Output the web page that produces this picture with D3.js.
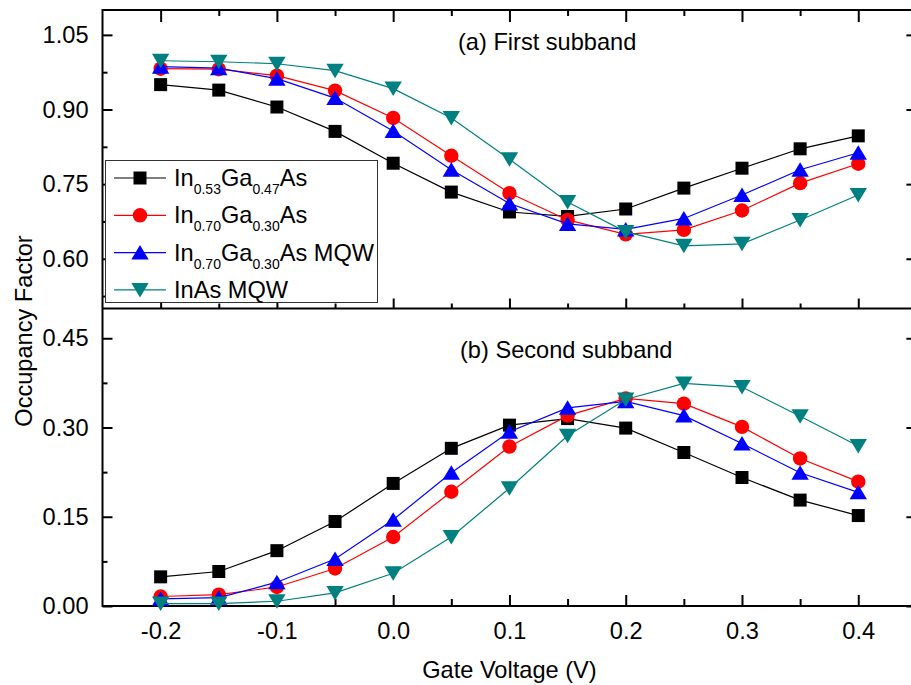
<!DOCTYPE html>
<html>
<head>
<meta charset="utf-8">
<script src="https://cdn.jsdelivr.net/npm/d3@7"></script>
<style>
  html, body { margin: 0; padding: 0; background: #fff; }
  svg { display: block; }
  text { font-family: "Liberation Sans", Arial, sans-serif; fill: #000; }
</style>
</head>
<body>
<svg id="chart" width="911" height="685"></svg>
<script>
// Gate voltage sweep (V)
const gateVoltage = [-0.2, -0.15, -0.1, -0.05, 0.0, 0.05, 0.1, 0.15, 0.2, 0.25, 0.3, 0.35, 0.4];

// (a) first subband occupancy
const first_InGaAs53   = [0.950, 0.939, 0.905, 0.856, 0.792, 0.734, 0.694, 0.685, 0.700, 0.742, 0.782, 0.821, 0.847];
const first_InGaAs70   = [0.982, 0.981, 0.968, 0.938, 0.883, 0.807, 0.732, 0.678, 0.649, 0.658, 0.697, 0.752, 0.791];
const first_InGaAs70MQW= [0.986, 0.983, 0.962, 0.923, 0.857, 0.779, 0.711, 0.670, 0.659, 0.681, 0.728, 0.779, 0.813];
const first_InAsMQW    = [0.998, 0.996, 0.992, 0.978, 0.942, 0.883, 0.800, 0.714, 0.654, 0.626, 0.630, 0.678, 0.728];

// (b) second subband occupancy
const second_InGaAs53   = [0.049, 0.058, 0.093, 0.142, 0.206, 0.265, 0.304, 0.315, 0.299, 0.258, 0.216, 0.178, 0.152];
const second_InGaAs70   = [0.016, 0.019, 0.032, 0.063, 0.116, 0.192, 0.268, 0.320, 0.349, 0.340, 0.301, 0.248, 0.209];
const second_InGaAs70MQW= [0.012, 0.014, 0.040, 0.079, 0.145, 0.224, 0.293, 0.333, 0.344, 0.320, 0.273, 0.224, 0.191];
const second_InAsMQW    = [0.004, 0.004, 0.008, 0.022, 0.055, 0.116, 0.198, 0.286, 0.347, 0.374, 0.368, 0.319, 0.269];

// Axis ticks
const xTicks = [-0.2, -0.1, 0.0, 0.1, 0.2, 0.3, 0.4];
const xMinorTicks = [-0.15, -0.05, 0.05, 0.15, 0.25, 0.35];
const yTopTicks = [0.60, 0.75, 0.90, 1.05];
const yTopMinor = [0.525, 0.675, 0.825, 0.975];
const yBotTicks = [0.00, 0.15, 0.30, 0.45];
const yBotMinor = [0.075, 0.225, 0.375];

// Legend entries: [main, sub, main, sub, main] pieces
const seriesNames = [
  ["In", "0.53", "Ga", "0.47", "As"],
  ["In", "0.70", "Ga", "0.30", "As"],
  ["In", "0.70", "Ga", "0.30", "As MQW"],
  ["InAs MQW"]
];
const seriesColors = ["#000000", "#ff0000", "#0000ff", "#008080"];
const seriesShapes = ["square", "circle", "triUp", "triDown"];
const firstSeries = [first_InGaAs53, first_InGaAs70, first_InGaAs70MQW, first_InAsMQW];
const secondSeries = [second_InGaAs53, second_InGaAs70, second_InGaAs70MQW, second_InAsMQW];

const svg = d3.select("#chart");

const L = 102.5, R = 916.4, T = 10, M = 308.5, B = 606;
const FS = 23.6;

const x = d3.scaleLinear().domain([-0.25, 0.45]).range([L, R]);
const yTop = d3.scaleLinear().domain([0.5, 1.1]).range([M, T]);
const yBot = d3.scaleLinear().domain([0, 0.5]).range([B, M]);

function markerPath(shape) {
  if (shape === "square") return "M-6.5,-6.5H6.5V6.5H-6.5Z";
  if (shape === "circle") return d3.symbol(d3.symbolCircle, Math.PI * 7.2 * 7.2)();
  if (shape === "triUp") return "M0,-7.5L8.7,7L-8.7,7Z";
  return "M0,7.5L8.7,-7L-8.7,-7Z";
}

function styleAxis(g) {
  g.select(".domain").remove();
  g.selectAll(".tick line").attr("stroke", "#000").attr("stroke-width", 2);
  g.selectAll(".tick text").attr("font-size", FS).attr("fill", "#000")
    .attr("font-family", "Liberation Sans, Arial, sans-serif");
}

// Left axes with labels
svg.append("g").attr("transform", `translate(${L},0)`)
  .call(d3.axisLeft(yTop).tickValues(yTopTicks).tickSize(-10).tickPadding(14).tickFormat(d => d.toFixed(2)))
  .call(styleAxis);
svg.append("g").attr("transform", `translate(${L},0)`)
  .call(d3.axisLeft(yTop).tickValues(yTopMinor).tickSize(-5).tickFormat(""))
  .call(styleAxis);
svg.append("g").attr("transform", `translate(${L},0)`)
  .call(d3.axisLeft(yBot).tickValues(yBotTicks).tickSize(-10).tickPadding(14).tickFormat(d => d.toFixed(2)))
  .call(styleAxis);
svg.append("g").attr("transform", `translate(${L},0)`)
  .call(d3.axisLeft(yBot).tickValues(yBotMinor).tickSize(-5).tickFormat(""))
  .call(styleAxis);

// Right axes (major ticks only)
svg.append("g").attr("transform", `translate(${R},0)`)
  .call(d3.axisRight(yTop).tickValues(yTopTicks).tickSize(-10).tickFormat(""))
  .call(styleAxis);
svg.append("g").attr("transform", `translate(${R},0)`)
  .call(d3.axisRight(yBot).tickValues(yBotTicks).tickSize(-10).tickFormat(""))
  .call(styleAxis);

// Top edge of panel (a)
svg.append("g").attr("transform", `translate(0,${T})`)
  .call(d3.axisTop(x).tickValues(xTicks).tickSize(-12).tickFormat(""))
  .call(styleAxis);
svg.append("g").attr("transform", `translate(0,${T})`)
  .call(d3.axisTop(x).tickValues(xMinorTicks).tickSize(-6).tickFormat(""))
  .call(styleAxis);

// Bottom edge of panel (a)
svg.append("g").attr("transform", `translate(0,${M})`)
  .call(d3.axisBottom(x).tickValues(xTicks).tickSize(-10).tickFormat(""))
  .call(styleAxis);
svg.append("g").attr("transform", `translate(0,${M})`)
  .call(d3.axisBottom(x).tickValues(xMinorTicks).tickSize(-5).tickFormat(""))
  .call(styleAxis);

// Bottom axis of panel (b) with labels
svg.append("g").attr("transform", `translate(0,${B})`)
  .call(d3.axisBottom(x).tickValues(xTicks).tickSize(-11).tickPadding(16).tickFormat(d => d.toFixed(1)))
  .call(styleAxis);
svg.append("g").attr("transform", `translate(0,${B})`)
  .call(d3.axisBottom(x).tickValues(xMinorTicks).tickSize(-7).tickFormat(""))
  .call(styleAxis);

// Frame
const frame = svg.append("g").attr("stroke", "#000").attr("stroke-width", 2).attr("fill", "none");
frame.append("rect").attr("x", L).attr("y", T).attr("width", R - L).attr("height", B - T);
frame.append("line").attr("x1", L).attr("x2", R).attr("y1", M).attr("y2", M);

// Series
function drawPanel(yScale, data) {
  const line = d3.line().x((d, i) => x(gateVoltage[i])).y(d => yScale(d));
  data.forEach((vals, k) => {
    const g = svg.append("g");
    g.append("path").datum(vals).attr("d", line)
      .attr("fill", "none").attr("stroke", seriesColors[k]).attr("stroke-width", 1.2);
    g.selectAll("path.m").data(vals).join("path").attr("class", "m")
      .attr("d", markerPath(seriesShapes[k]))
      .attr("transform", (d, i) => `translate(${x(gateVoltage[i])},${yScale(d)})`)
      .attr("fill", seriesColors[k]);
  });
}
drawPanel(yTop, firstSeries);
drawPanel(yBot, secondSeries);

// Panel captions
svg.append("text").attr("x", 458).attr("y", 50).attr("font-size", FS).text("(a) First subband");
svg.append("text").attr("x", 460).attr("y", 358).attr("font-size", FS).text("(b) Second subband");

// Axis titles
svg.append("text").attr("x", (L + R) / 2).attr("y", 678).attr("text-anchor", "middle")
  .attr("font-size", FS).text("Gate Voltage (V)");
svg.append("text").attr("transform", "translate(32,331) rotate(-90)").attr("text-anchor", "middle")
  .attr("font-size", FS).text("Occupancy Factor");

// Legend
const lg = svg.append("g");
lg.append("rect").attr("x", 105.5).attr("y", 160.5).attr("width", 272).attr("height", 142)
  .attr("fill", "#fff").attr("stroke", "#333").attr("stroke-width", 1);
seriesNames.forEach((parts, k) => {
  const cy = 178 + k * 37.3;
  lg.append("line").attr("x1", 114).attr("x2", 166).attr("y1", cy).attr("y2", cy)
    .attr("stroke", seriesColors[k]).attr("stroke-width", 1.2);
  lg.append("path").attr("d", markerPath(seriesShapes[k]))
    .attr("transform", `translate(140,${cy})`).attr("fill", seriesColors[k]);
  const t = lg.append("text").attr("x", 174).attr("y", cy + 8).attr("font-size", FS);
  parts.forEach((p, j) => {
    const isSub = j % 2 === 1;
    const ts = t.append("tspan").text(p);
    if (isSub) ts.attr("font-size", 14).attr("dy", 8);
    else if (j > 0) ts.attr("dy", -8);
  });
});
</script>
</body>
</html>
